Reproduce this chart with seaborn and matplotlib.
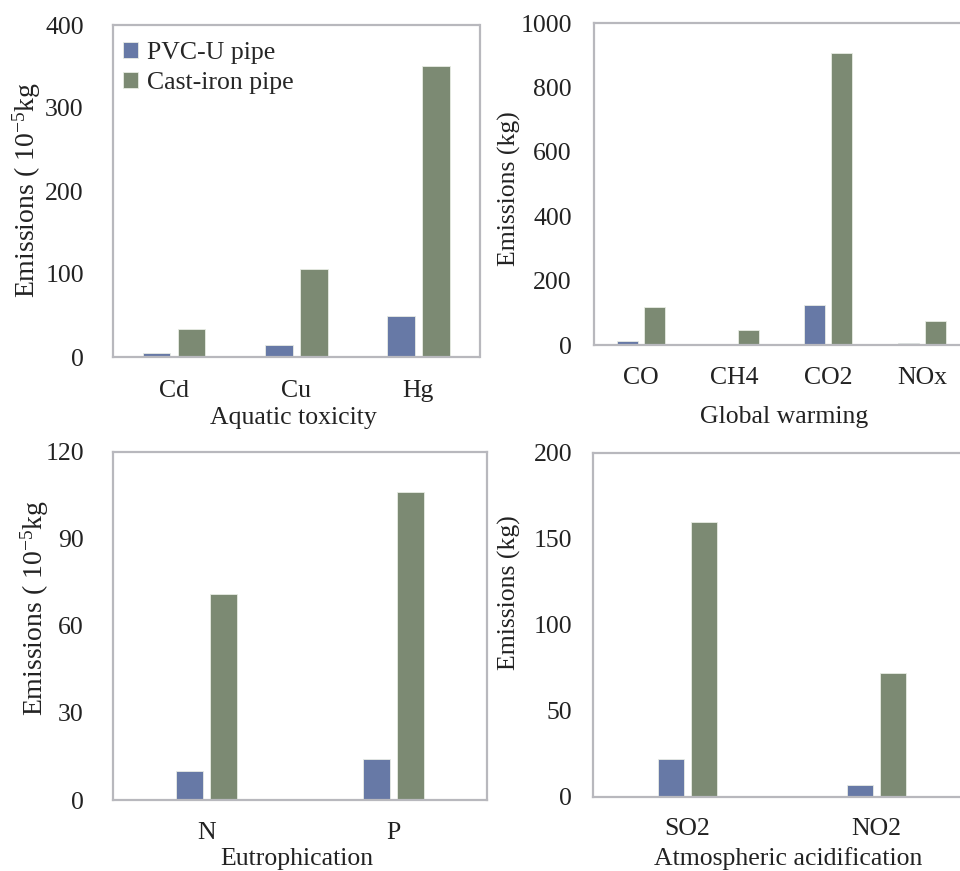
import pandas as pd
import matplotlib
matplotlib.use("Agg")
import matplotlib.pyplot as plt
import seaborn as sns

# values
pipes = ["PVC-U pipe", "Cast-iron pipe"]

aquatic_cats = ["Cd", "Cu", "Hg"]
aquatic_pvc = [5, 15, 49]
aquatic_iron = [34, 106, 351]

warming_cats = ["CO", "CH4", "CO2", "NOx"]
warming_pvc = [13, 2, 124, 7]
warming_iron = [119, 47, 907, 74]

eutro_cats = ["N", "P"]
eutro_pvc = [10, 14]
eutro_iron = [71, 106]

acid_cats = ["SO2", "NO2"]
acid_pvc = [22, 7]
acid_iron = [160, 72]

BLUE = "#6779a6"
GREEN = "#7c8a73"
FRAME = "#b8b8bd"
FS = 18.5

sns.set_style("white")
plt.rcParams["font.family"] = ["Liberation Serif", "DejaVu Serif"]
plt.rcParams["mathtext.fontset"] = "custom"
plt.rcParams["mathtext.rm"] = "Liberation Serif"
plt.rcParams["mathtext.it"] = "Liberation Serif:italic"


def to_long(cats, pvc, iron):
    return pd.DataFrame({
        "cat": cats * 2,
        "pipe": [pipes[0]] * len(cats) + [pipes[1]] * len(cats),
        "value": list(pvc) + list(iron),
    })


def panel(fig, rect, cats, pvc, iron, ymax, ystep, ylabel, xlabel,
          width, gap, ypad, xpad, ylab_xy, xlab_xy, ylab_fs=FS, legend=False):
    ax = fig.add_axes(rect)
    df = to_long(cats, pvc, iron)
    sns.barplot(data=df, x="cat", y="value", hue="pipe", hue_order=pipes,
                palette=[BLUE, GREEN], width=width, gap=gap, ax=ax,
                legend=legend, edgecolor="#e8ece4", linewidth=0.6,
                errorbar=None, saturation=1)
    ax.set_ylim(0, ymax)
    ax.set_yticks(range(0, ymax + 1, ystep))
    ax.set_xlim(-0.5, len(cats) - 0.5)
    for s in ax.spines.values():
        s.set_color(FRAME)
        s.set_linewidth(1.6)
        s.set_visible(True)
    ax.tick_params(axis="y", direction="in", length=5, width=1, colors=FRAME,
                   labelcolor="#222222", labelsize=FS, pad=ypad)
    ax.tick_params(axis="x", length=0, labelsize=FS, pad=xpad,
                   labelcolor="#222222")
    ax.set_ylabel(ylabel, fontsize=ylab_fs, color="#222222")
    ax.set_xlabel(xlabel, fontsize=FS, color="#222222")
    ax.yaxis.set_label_coords(*ylab_xy)
    ax.xaxis.set_label_coords(*xlab_xy)
    ax.xaxis.label.set_verticalalignment("top")
    if legend:
        ax.legend(loc="upper left", bbox_to_anchor=(-0.019, 1.0), frameon=False,
                  fontsize=FS, handlelength=0.6, handleheight=0.6,
                  handletextpad=0.35, labelspacing=0.3, borderpad=0.45,
                  borderaxespad=0.2, title=None)
    return ax


W, H = 960, 871
fig = plt.figure(figsize=(W / 100, H / 100), dpi=100)


def rect(l, r, t, b):
    return [l / W, 1 - b / H, (r - l) / W, (b - t) / H]


small_unit = "Emissions ( 10$^{\\mathrm{-5}}$kg"

panel(fig, rect(113, 479.5, 25, 357), aquatic_cats, aquatic_pvc, aquatic_iron,
      400, 100, small_unit, "Aquatic toxicity", 0.572, 0.21, 21, 16.5,
      (-0.191, 0.503), (0.491, -0.152), ylab_fs=20, legend=True)
panel(fig, rect(594, 969, 23.3, 345), warming_cats, warming_pvc, warming_iron,
      1000, 200, "Emissions (kg)", "Global warming", 0.576, 0.22, 16, 16,
      (-0.195, 0.486), (0.507, -0.19))
panel(fig, rect(113, 487, 451.7, 800), eutro_cats, eutro_pvc, eutro_iron,
      120, 30, small_unit, "Eutrophication", 0.358, 0.196, 21, 16,
      (-0.167, 0.552), (0.492, -0.137), ylab_fs=20)
panel(fig, rect(593, 971, 452.7, 796.7), acid_cats, acid_pvc, acid_iron,
      200, 50, "Emissions (kg)", "Atmospheric acidification", 0.349, 0.2, 15, 15.5,
      (-0.19, 0.594), (0.516, -0.146))

fig.savefig("out.png", dpi=100)
